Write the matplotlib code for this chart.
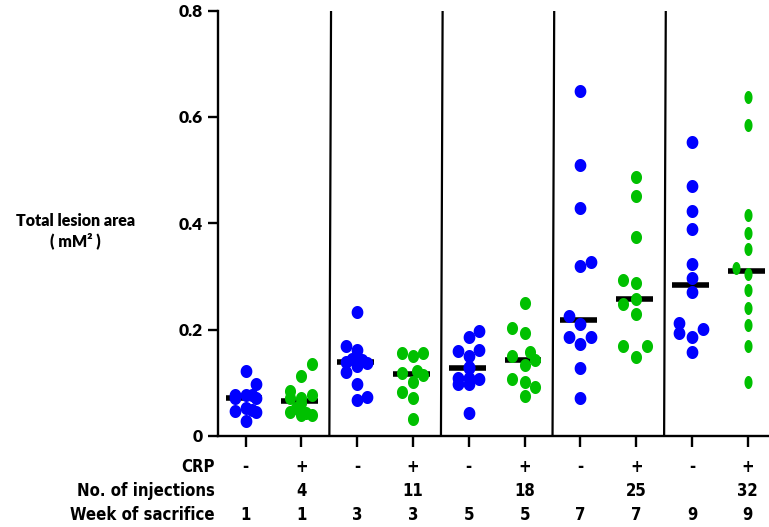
import numpy as np
import matplotlib
matplotlib.use("Agg")
import matplotlib.pyplot as plt
from matplotlib.path import Path

# lesion area (mm^2) per animal, CRP- / CRP+ at each sacrifice week
wk1_neg = [0.123, 0.098, 0.077, 0.072, 0.077, 0.077, 0.072, 0.047, 0.052, 0.049, 0.045, 0.028]
wk1_pos = [0.136, 0.113, 0.085, 0.072, 0.077, 0.071, 0.062, 0.052, 0.045, 0.040, 0.040, 0.044]
wk3_neg = [0.233, 0.169, 0.162, 0.145, 0.143, 0.138, 0.140, 0.121, 0.131, 0.098, 0.068, 0.073]
wk3_pos = [0.156, 0.151, 0.156, 0.118, 0.123, 0.115, 0.102, 0.082, 0.072, 0.032]
wk5_neg = [0.197, 0.187, 0.159, 0.150, 0.162, 0.130, 0.127, 0.109, 0.098, 0.109, 0.098, 0.108, 0.043]
wk5_pos = [0.250, 0.203, 0.194, 0.151, 0.157, 0.143, 0.133, 0.108, 0.101, 0.093, 0.075]
wk7_neg = [0.648, 0.510, 0.428, 0.327, 0.319, 0.225, 0.211, 0.187, 0.186, 0.173, 0.128, 0.072]
wk7_pos = [0.487, 0.452, 0.374, 0.293, 0.288, 0.258, 0.249, 0.230, 0.170, 0.170, 0.148]
wk9_neg = [0.553, 0.470, 0.423, 0.389, 0.323, 0.298, 0.270, 0.213, 0.194, 0.201, 0.187, 0.157]
wk9_pos = [0.638, 0.584, 0.416, 0.381, 0.351, 0.315, 0.304, 0.274, 0.241, 0.208, 0.170, 0.101]

# sideways spread of the dots (in category widths) so they don't pile up
wk1_neg_dx = [0, 0.18, -0.2, -0.2, 0, 0.11, 0.18, -0.2, 0, 0.11, 0.18, 0]
wk1_pos_dx = [0.18, 0, -0.2, -0.2, 0.18, 0, 0, -0.09, -0.2, 0, 0.18, 0.09]
wk3_neg_dx = [0, -0.2, 0, -0.09, 0.09, 0.18, -0.2, -0.2, 0, 0, 0, 0.18]
wk3_pos_dx = [-0.2, 0, 0.18, -0.2, 0.07, 0.18, 0, -0.2, 0, 0]
wk5_neg_dx = [0.18, 0, -0.2, 0, 0.18, 0, 0, -0.2, -0.2, 0, 0, 0.18, 0]
wk5_pos_dx = [0, -0.22, 0, -0.22, 0.09, 0.18, 0, -0.22, 0, 0.18, 0]
wk7_neg_dx = [0, 0, 0, 0.19, 0, -0.21, 0, -0.21, 0.19, 0, 0, 0]
wk7_pos_dx = [0, 0, 0, -0.24, 0, 0, -0.24, 0, -0.24, 0.19, 0]
wk9_neg_dx = [0, 0, 0, 0, 0, 0, 0, -0.24, -0.24, 0.19, 0, 0]
wk9_pos_dx = [0, 0, 0, 0, 0, -0.21, 0, 0, 0, 0, 0, 0]

crp = ["-", "+", "-", "+", "-", "+", "-", "+", "-", "+"]
injections = ["", "4", "", "11", "", "18", "", "25", "", "32"]
week = ["1", "1", "3", "3", "5", "5", "7", "7", "9", "9"]

groups = [wk1_neg, wk1_pos, wk3_neg, wk3_pos, wk5_neg, wk5_pos, wk7_neg, wk7_pos, wk9_neg, wk9_pos]
spreads = [wk1_neg_dx, wk1_pos_dx, wk3_neg_dx, wk3_pos_dx, wk5_neg_dx, wk5_pos_dx,
           wk7_neg_dx, wk7_pos_dx, wk9_neg_dx, wk9_pos_dx]

BLUE = "#0000ff"
GREEN = "#00c000"


def oval(aspect):
    # slightly tall ellipse used as the dot marker
    t = np.linspace(0, 2 * np.pi, 60)
    return Path(np.column_stack([aspect * np.cos(t), np.sin(t)]), closed=True)


fig = plt.figure(figsize=(7.69, 5.27), dpi=100)
ax = fig.add_axes([0.2832, 0.1727, 0.7168, 0.8073])

for i, (vals, dx) in enumerate(zip(groups, spreads)):
    pos = i + 1
    col = BLUE if i % 2 == 0 else GREEN
    aspect = 0.62 if i == 9 else (0.9 if i % 2 == 0 else 0.85)
    xs = pos + np.array(dx)
    ax.scatter(xs, vals, s=88, marker=oval(aspect), color=col, linewidths=0, zorder=3)
    med = np.median(vals)
    ax.hlines(med, pos - 0.36, pos + 0.3, color="black", linewidth=4, zorder=2)

# dividers between the sacrifice weeks
for xb in [2.5, 4.5, 6.5, 8.5]:
    ax.plot([xb, xb + 0.03], [0, 0.8], color="black", linewidth=1.6, zorder=1)

ax.set_xlim(0.5, 10.38)
ax.set_ylim(0, 0.8)
ax.spines["top"].set_visible(False)
ax.spines["right"].set_visible(False)
ax.spines["left"].set_linewidth(1.7)
ax.spines["bottom"].set_linewidth(1.7)

ax.set_xticks(range(1, 11))
ax.set_xticklabels([])
ax.tick_params(axis="x", direction="out", length=8, width=1.7)
ax.set_yticks([0, 0.2, 0.4, 0.6, 0.8])
ax.set_yticklabels(["0", "0.2", "0.4", "0.6", "0.8"], fontfamily="Lato",
                   fontweight=800, fontsize=12.5)
ax.tick_params(axis="y", direction="out", length=7, width=1.7, pad=4)

fig.text(0.098, 0.562, "Total lesion area\n( mM² )", ha="center", va="center",
         fontfamily="Lato", fontweight=800, fontsize=11.5, linespacing=1.25)

# table of conditions under the x axis
rows = [("CRP", crp, -0.073), ("No. of injections", injections, -0.129),
        ("Week of sacrifice", week, -0.186)]
trans = ax.get_xaxis_transform()
for name, labels, yy in rows:
    ax.text(0.45, yy, name, transform=trans, ha="right", va="center",
            fontfamily="DejaVu Sans", fontstretch="condensed", fontweight="bold",
            fontsize=12, clip_on=False)
    for j, lab in enumerate(labels):
        ax.text(j + 1, yy, lab, transform=trans, ha="center", va="center",
                fontfamily="DejaVu Sans", fontstretch="condensed", fontweight="bold",
                fontsize=12, clip_on=False)

fig.savefig("out.png", dpi=100)
